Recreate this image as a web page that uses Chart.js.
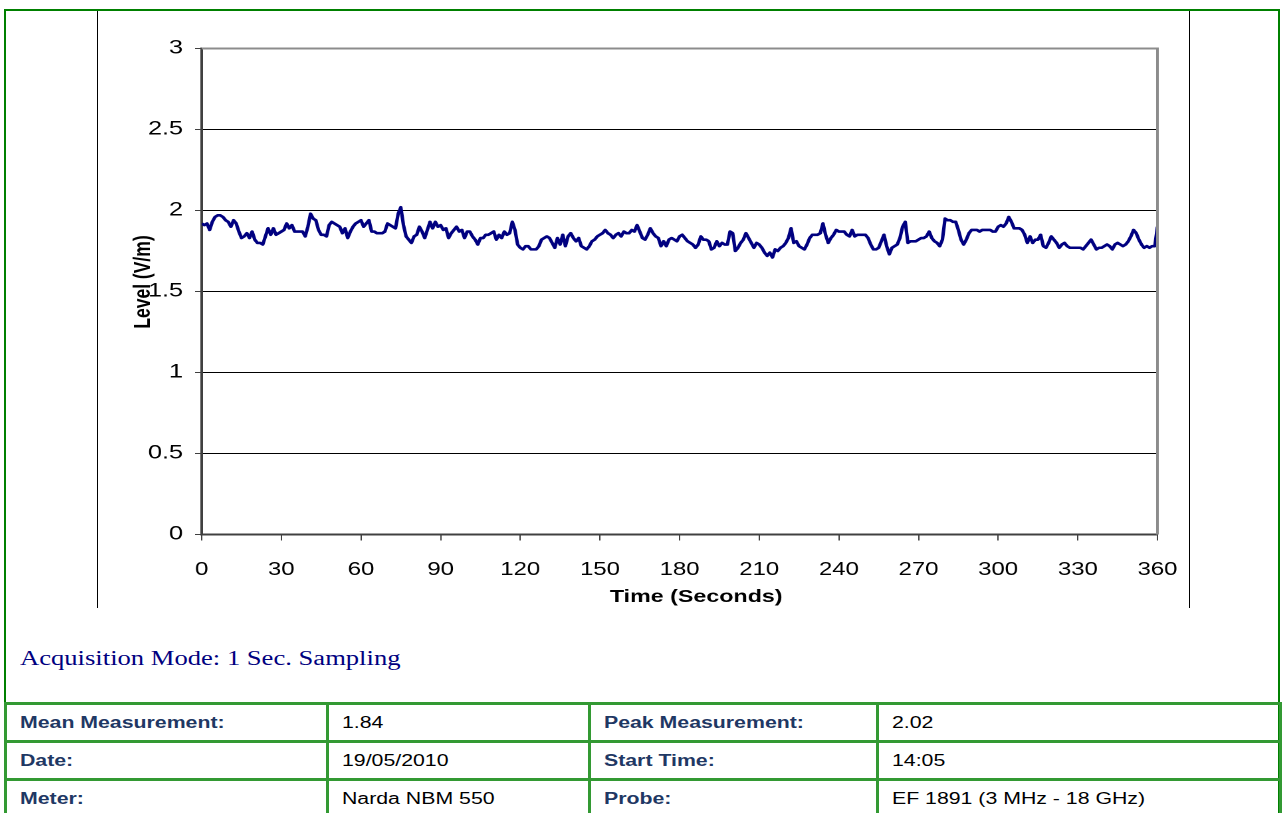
<!doctype html>
<html lang="en">
  <head>
    <meta charset="utf-8">
    <title>Level (V/m) - 1 Sec. Sampling</title>
    <style>
      * {
        margin: 0;
        padding: 0;
      }
      body {
        width: 1282px;
        height: 813px;
        overflow: hidden;
        position: relative;
        background: #fff;
        font-family: "Liberation Sans", Arial, sans-serif;
      }
      .frame {
        position: absolute;
        left: 4px;
        top: 9px;
        width: 1276px;
        height: 830px;
        box-sizing: border-box;
        border: 2px solid #008000;
        border-bottom: none;
      }
      .vline {
        position: absolute;
        top: 11px;
        width: 1px;
        height: 597px;
        background: #000;
      }
      .chartBox {
        position: absolute;
        left: 98px;
        top: 11px;
        width: 1090px;
        height: 596px;
        overflow: hidden;
      }
      .chartBox canvas {
        transform-origin: 0 0;
        transform: scaleX(1.3293);
      }
      .stretch {
        display: inline-block;
        white-space: nowrap;
        transform-origin: 0 50%;
        transform: scaleX(1.33);
      }
      .mode {
        position: absolute;
        left: 20px;
        top: 646px;
        font-family: "Liberation Serif", "Times New Roman", serif;
        font-size: 20px;
        line-height: 24px;
        color: #000080;
      }
      table {
        position: absolute;
        left: 4px;
        top: 702px;
        border-collapse: collapse;
        table-layout: fixed;
      }
      td {
        border: 3px solid #339933;
        height: 35px;
        padding: 0 0 0 13px;
        font-size: 16px;
        color: #000;
        vertical-align: middle;
        overflow: hidden;
      }
      td.lbl {
        font-weight: bold;
        color: #1F3864;
      }
    </style>
  </head>
  <body>
    <div class="frame"></div>
    <div class="vline" style="left:97px"></div>
    <div class="vline" style="left:1189px"></div>
    <div class="chartBox">
      <canvas id="levelChart" width="820" height="596"></canvas>
    </div>
    <div class="mode"><span class="stretch">Acquisition Mode: 1 Sec. Sampling</span></div>
    <table>
      <colgroup>
        <col style="width:322px"><col style="width:262px"><col style="width:288px"><col style="width:403px">
      </colgroup>
      <tr>
        <td class="lbl"><span class="stretch">Mean Measurement:</span></td>
        <td><span class="stretch">1.84</span></td>
        <td class="lbl"><span class="stretch">Peak Measurement:</span></td>
        <td><span class="stretch">2.02</span></td>
      </tr>
      <tr>
        <td class="lbl"><span class="stretch">Date:</span></td>
        <td><span class="stretch">19/05/2010</span></td>
        <td class="lbl"><span class="stretch">Start Time:</span></td>
        <td><span class="stretch">14:05</span></td>
      </tr>
      <tr>
        <td class="lbl"><span class="stretch">Meter:</span></td>
        <td><span class="stretch">Narda NBM 550</span></td>
        <td class="lbl"><span class="stretch">Probe:</span></td>
        <td><span class="stretch">EF 1891 (3 MHz - 18 GHz)</span></td>
      </tr>
    </table>

    <script src="https://cdn.jsdelivr.net/npm/chart.js/dist/chart.umd.min.js"></script>
    <script>
    // setup - one reading per second, 0..360 s
    const level = [
      1.92, 1.91, 1.92, 1.88, 1.93, 1.96, 1.97, 1.97, 1.96, 1.94,
      1.93, 1.90, 1.94, 1.92, 1.87, 1.83, 1.84, 1.86, 1.83, 1.87,
      1.82, 1.80, 1.80, 1.79, 1.84, 1.89, 1.85, 1.89, 1.85, 1.86,
      1.87, 1.88, 1.92, 1.89, 1.91, 1.87, 1.87, 1.87, 1.87, 1.84,
      1.90, 1.98, 1.95, 1.94, 1.88, 1.85, 1.85, 1.84, 1.91, 1.93,
      1.92, 1.91, 1.90, 1.86, 1.89, 1.83, 1.87, 1.90, 1.92, 1.93,
      1.94, 1.90, 1.92, 1.94, 1.87, 1.87, 1.86, 1.86, 1.86, 1.87,
      1.92, 1.91, 1.90, 1.89, 1.98, 2.02, 1.91, 1.84, 1.82, 1.80,
      1.84, 1.85, 1.90, 1.87, 1.83, 1.88, 1.93, 1.89, 1.93, 1.90,
      1.91, 1.88, 1.89, 1.83, 1.86, 1.88, 1.90, 1.87, 1.88, 1.83,
      1.87, 1.87, 1.84, 1.82, 1.79, 1.83, 1.83, 1.85, 1.85, 1.86,
      1.87, 1.82, 1.85, 1.83, 1.87, 1.85, 1.86, 1.93, 1.88, 1.79,
      1.77, 1.76, 1.78, 1.78, 1.76, 1.76, 1.76, 1.78, 1.82, 1.83,
      1.84, 1.83, 1.80, 1.77, 1.83, 1.79, 1.85, 1.78, 1.84, 1.86,
      1.83, 1.81, 1.83, 1.78, 1.77, 1.76, 1.78, 1.81, 1.82, 1.84,
      1.85, 1.86, 1.88, 1.86, 1.85, 1.83, 1.85, 1.86, 1.84, 1.87,
      1.86, 1.86, 1.88, 1.87, 1.91, 1.87, 1.83, 1.82, 1.85, 1.89,
      1.86, 1.84, 1.83, 1.78, 1.81, 1.78, 1.82, 1.83, 1.82, 1.81,
      1.84, 1.85, 1.83, 1.81, 1.80, 1.79, 1.77, 1.79, 1.84, 1.82,
      1.82, 1.81, 1.76, 1.77, 1.81, 1.78, 1.80, 1.79, 1.79, 1.87,
      1.86, 1.75, 1.77, 1.80, 1.82, 1.86, 1.83, 1.80, 1.77, 1.80,
      1.79, 1.77, 1.74, 1.72, 1.74, 1.71, 1.76, 1.75, 1.77, 1.78,
      1.80, 1.83, 1.89, 1.80, 1.81, 1.78, 1.77, 1.76, 1.79, 1.83,
      1.85, 1.85, 1.85, 1.86, 1.92, 1.85, 1.80, 1.83, 1.85, 1.88,
      1.87, 1.87, 1.87, 1.85, 1.84, 1.88, 1.84, 1.85, 1.85, 1.85,
      1.85, 1.83, 1.79, 1.76, 1.76, 1.77, 1.81, 1.85, 1.78, 1.73,
      1.77, 1.78, 1.79, 1.83, 1.90, 1.93, 1.80, 1.81, 1.81, 1.81,
      1.82, 1.83, 1.83, 1.84, 1.87, 1.83, 1.81, 1.80, 1.78, 1.82,
      1.95, 1.94, 1.94, 1.93, 1.93, 1.88, 1.82, 1.79, 1.82, 1.86,
      1.88, 1.88, 1.88, 1.87, 1.88, 1.88, 1.88, 1.88, 1.87, 1.87,
      1.90, 1.91, 1.90, 1.92, 1.96, 1.93, 1.89, 1.89, 1.89, 1.88,
      1.85, 1.80, 1.84, 1.80, 1.82, 1.82, 1.85, 1.78, 1.77, 1.80,
      1.84, 1.82, 1.80, 1.77, 1.79, 1.80, 1.78, 1.77, 1.77, 1.77,
      1.77, 1.77, 1.76, 1.78, 1.80, 1.82, 1.79, 1.76, 1.77, 1.77,
      1.78, 1.79, 1.78, 1.76, 1.79, 1.80, 1.79, 1.78, 1.79, 1.81,
      1.84, 1.88, 1.86, 1.82, 1.79, 1.77, 1.78, 1.77, 1.78, 1.78,
      1.90
    ];
    const seconds = level.map((v, i) => i);   // 1 sec sampling
    const xTicks = [0, 30, 60, 90, 120, 150, 180, 210, 240, 270, 300, 330, 360];
    const yTicks = [0, 0.5, 1, 1.5, 2, 2.5, 3];
    const xTitle = 'Time (Seconds)';
    const yTitle = 'Level (V/m)';

    Chart.defaults.font.family = '"Liberation Sans", Arial, sans-serif';
    Chart.defaults.font.size = 18;
    Chart.defaults.color = '#000';

    // plot frame (grey top/right edge) + axis titles
    const plotFrame = {
      id: 'plotFrame',
      afterDraw(chart) {
        const { ctx, chartArea: { top, bottom, left, right } } = chart;
        ctx.save();
        ctx.strokeStyle = '#8c8c8c';
        ctx.lineWidth = 2;
        ctx.beginPath();
        ctx.moveTo(left, top);
        ctx.lineTo(right, top);
        ctx.lineTo(right, bottom);
        ctx.stroke();

        ctx.fillStyle = '#000';
        ctx.font = 'bold 17.5px "Liberation Sans", Arial, sans-serif';
        ctx.textAlign = 'center';
        ctx.textBaseline = 'middle';
        ctx.fillText(xTitle, 450, 586);
        ctx.translate(34, 271);
        ctx.rotate(-Math.PI / 2);
        ctx.fillText(yTitle, 0, 0);
        ctx.restore();
      }
    };

    const config = {
      type: 'line',
      data: {
        labels: seconds,
        datasets: [{
          data: level,
          borderColor: '#000080',
          borderWidth: 2.6,
          borderJoinStyle: 'round',
          pointRadius: 0,
          tension: 0,
          fill: false
        }]
      },
      options: {
        responsive: false,
        animation: false,
        devicePixelRatio: 2,
        layout: { padding: { top: 37.5, right: 23, left: 0, bottom: 0 } },
        plugins: {
          legend: { display: false },
          tooltip: { enabled: false }
        },
        scales: {
          x: {
            type: 'linear',
            min: 0,
            max: 360,
            afterBuildTicks: s => { s.ticks = xTicks.map(v => ({ value: v })); },
            afterFit: s => { s.height = 72.5; s.paddingLeft = 0; s.paddingRight = 0; },
            grid: { drawOnChartArea: false, tickLength: 6, tickColor: '#404040' },
            border: { color: '#404040', width: 2 },
            ticks: { padding: 18.5, maxRotation: 0, autoSkip: false, callback: v => String(v) }
          },
          y: {
            min: 0,
            max: 3,
            afterBuildTicks: s => { s.ticks = yTicks.map(v => ({ value: v })); },
            afterFit: s => { s.width = 78; },
            grid: {
              color: ctx => (ctx.tick && ctx.tick.value === 3) ? '#8c8c8c' : '#000',
              lineWidth: 1,
              tickLength: 5,
              tickColor: '#404040'
            },
            border: { color: '#404040', width: 2 },
            ticks: { padding: 9, font: { size: 19 }, callback: v => String(v) }
          }
        }
      },
      plugins: [plotFrame]
    };

    const levelChart = new Chart(document.getElementById('levelChart'), config);
    </script>
  </body>
</html>
